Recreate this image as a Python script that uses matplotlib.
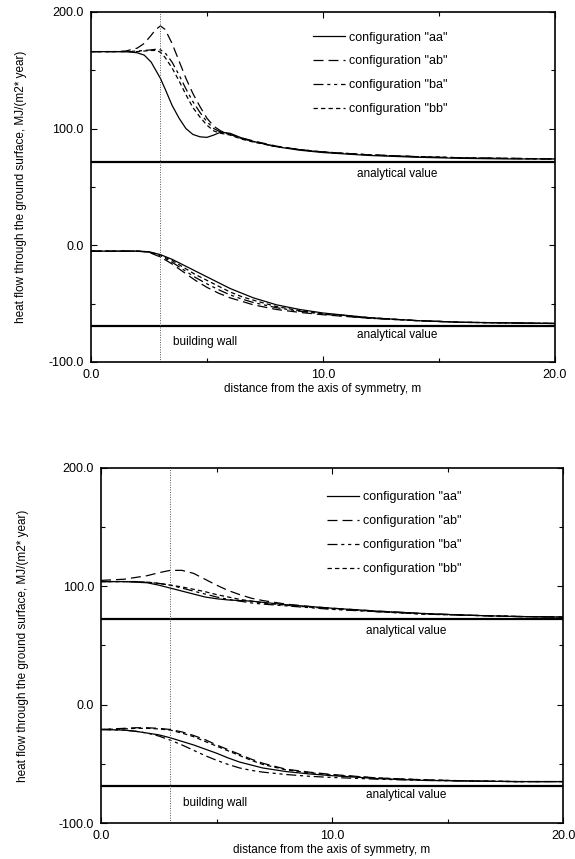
import matplotlib
matplotlib.use("Agg")
import matplotlib.pyplot as plt
from matplotlib.ticker import MultipleLocator, FormatStrFormatter

plt.rcParams['font.family'] = ['Liberation Sans', 'DejaVu Sans']

# ---- data (distance in m, heat flow in MJ/(m2* year)) ----
labels = ['configuration "aa"', 'configuration "ab"',
          'configuration "ba"', 'configuration "bb"']

# upper plot, upper group of curves
x_t1 = [0, 1, 1.5, 2.0, 2.3, 2.6, 2.8, 3.0, 3.2, 3.5, 3.8, 4.1, 4.4, 4.7,
        5.0, 5.3, 5.6, 6.0, 6.5, 7.0, 8.0, 9.0, 10, 12, 14, 16, 18, 20]
aa_t1 = [166, 166, 166, 165, 163, 157, 150, 143, 134, 120, 109, 100, 95, 93,
         92.5, 94.5, 97, 96, 92, 89, 84.5, 81.5, 79.5, 77, 75.5, 74.5, 74, 74]
ab_t1 = [166, 166, 166.5, 169, 173, 180, 185, 188, 185, 173, 158, 143, 130, 119,
         109, 102, 98, 95, 92, 89.5, 85, 82, 80, 77.5, 76, 75, 74.5, 74]
ba_t1 = [166, 166, 166, 166.5, 167, 167.5, 168, 167.5, 165, 157, 146, 134, 123, 114,
         106, 100, 97, 95, 91.5, 89, 84.5, 82, 80, 77.5, 76, 75, 74.5, 74]
bb_t1 = [166, 166, 166, 166, 166.5, 167, 167, 165.5, 161, 152, 141, 129, 118, 110,
         103, 98, 96, 94.5, 91, 88.5, 84.5, 82, 80, 77.5, 76, 75, 74.5, 74]

# upper plot, lower group of curves
x_t2 = [0, 1, 2, 2.5, 3, 3.5, 4, 4.5, 5, 5.5, 6, 6.5, 7, 8, 9, 10, 12, 14, 16, 18, 20]
aa_t2 = [-5, -5, -5, -5.5, -8, -12, -17, -22, -27, -32, -37, -41, -45, -51, -55,
         -58, -62, -64.5, -66, -66.5, -67]
ab_t2 = [-5, -5, -5, -6, -10, -16, -23, -30, -36, -41, -45, -48, -51, -55, -57.5,
         -59.5, -62.5, -64.5, -66, -66.5, -67]
ba_t2 = [-5, -5, -5, -5.8, -9, -14.5, -21, -27.5, -33, -38, -42.5, -46, -49, -53.5,
         -56.5, -59, -62.5, -64.5, -66, -66.5, -67]
bb_t2 = [-5, -5, -5, -5.6, -8.5, -13, -19, -25, -30, -35, -40, -44, -47, -52.5,
         -56, -58.5, -62, -64.5, -66, -66.5, -67]

# lower plot (both groups share the same distances)
x_b = [0, 1, 1.5, 2, 2.5, 3, 3.5, 4, 4.5, 5, 5.5, 6, 6.5, 7, 8, 9, 10, 12, 14, 16, 18, 20]
aa_b1 = [104, 104, 103.5, 103, 101, 98.5, 96, 93.5, 91, 89.5, 88.5, 88, 87.5, 86.5,
         84.5, 83, 81.5, 79, 77, 75.5, 74.5, 74]
ab_b1 = [105, 106, 107.5, 109, 111.5, 113.5, 113.5, 111, 106, 101, 96.5, 93, 90, 88,
         85, 83, 81.5, 79, 77, 75.5, 74.5, 74]
ba_b1 = [104, 104, 104, 103.5, 102.5, 101, 98.5, 96, 93.5, 91, 89, 87.5, 86, 85,
         83.5, 82, 80.5, 78.5, 76.5, 75.5, 74.5, 74]
bb_b1 = [104, 104, 104, 103.5, 102.5, 101, 99.5, 97.5, 95.5, 93, 91, 89, 87.5, 86,
         84, 82.5, 81, 78.5, 76.5, 75.5, 74.5, 74]

aa_b2 = [-21, -21.5, -22.5, -24, -25.5, -28, -31, -34, -37.5, -41, -45, -48.5, -51,
         -53.5, -56.5, -58.5, -60, -62.5, -64, -64.5, -65, -65]
ab_b2 = [-21, -20, -19.5, -19.5, -20, -21, -23, -26, -29.5, -34, -38, -42, -46,
         -49.5, -54.5, -57, -59, -62, -63.5, -64.5, -65, -65]
ba_b2 = [-21, -21.5, -22.5, -24, -26.5, -30, -34, -38.5, -43, -47, -50.5, -53.5,
         -55.5, -57, -59, -60.5, -61.5, -63, -64, -64.5, -65, -65]
bb_b2 = [-21, -20.5, -20, -20, -20.5, -21.5, -24, -27, -31, -35, -39, -43, -47,
         -50.5, -55, -57.5, -59.5, -62, -63.5, -64.5, -65, -65]

analytical_top = [71, -69]
analytical_bot = [72, -68.5]
wall_x = 3.0

styles = [
    dict(ls='-'),
    dict(ls=(0, (8, 4))),
    dict(ls=(0, (8, 3, 2.5, 3, 2.5, 3))),
    dict(ls=(0, (3.5, 2.5))),
]


def draw(ax, groups, analytical, legend_anchor):
    for g, (gx, curves) in enumerate(groups):
        for i, y in enumerate(curves):
            ax.plot(gx, y, color='black', lw=0.9,
                    label=labels[i] if g == 0 else None, **styles[i])
    for v in analytical:
        ax.axhline(v, color='black', lw=1.6)
    ax.axvline(wall_x, color='#555555', lw=0.7, ls=(0, (1, 1.5)))

    ax.text(13.2, analytical[0] - 10, 'analytical value', ha='center', va='center', fontsize=8.5)
    ax.text(13.2, analytical[1] - 8, 'analytical value', ha='center', va='center', fontsize=8.5)
    ax.text(3.55, -83, 'building wall', ha='left', va='center', fontsize=8.5)

    ax.set_xlim(0, 20)
    ax.set_ylim(-100, 200)
    ax.xaxis.set_major_locator(MultipleLocator(10))
    ax.xaxis.set_minor_locator(MultipleLocator(5))
    ax.yaxis.set_major_locator(MultipleLocator(100))
    ax.yaxis.set_minor_locator(MultipleLocator(50))
    ax.xaxis.set_major_formatter(FormatStrFormatter('%.1f'))
    ax.yaxis.set_major_formatter(FormatStrFormatter('%.1f'))
    ax.tick_params(which='both', direction='in', top=True, right=True, labelsize=9, width=0.8)
    ax.tick_params(which='major', length=4, pad=5)
    ax.tick_params(which='minor', length=3)
    for s in ax.spines.values():
        s.set_linewidth(1.2)

    ax.set_xlabel('distance from the axis of symmetry, m', fontsize=8.5)
    ax.set_ylabel('heat flow through the ground surface, MJ/(m2* year)', fontsize=8.5)
    ax.xaxis.set_label_coords(0.5, -0.06)

    ax.legend(loc='upper left', bbox_to_anchor=legend_anchor, frameon=False,
              fontsize=9, handlelength=2.55, handletextpad=0.35,
              labelspacing=0.95, borderpad=0, borderaxespad=0)


fig = plt.figure(figsize=(5.75, 8.59), dpi=100)
ax1 = fig.add_axes([0.158, 0.5786, 0.807, 0.4075])
ax2 = fig.add_axes([0.1757, 0.0419, 0.8035, 0.4133])

draw(ax1, [(x_t1, [aa_t1, ab_t1, ba_t1, bb_t1]), (x_t2, [aa_t2, ab_t2, ba_t2, bb_t2])],
     analytical_top, (0.478, 0.944))
ax1.yaxis.set_label_coords(-0.138, 0.5)

draw(ax2, [(x_b, [aa_b1, ab_b1, ba_b1, bb_b1]), (x_b, [aa_b2, ab_b2, ba_b2, bb_b2])],
     analytical_bot, (0.489, 0.934))
ax2.yaxis.set_label_coords(-0.155, 0.5)

fig.savefig('out.png', dpi=100)
